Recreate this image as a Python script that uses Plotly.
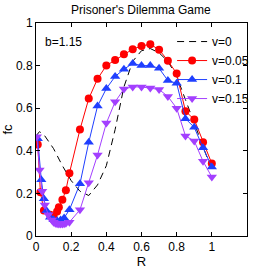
import plotly.graph_objects as go

# v=0 (dashed, no markers)
r0 = [0.0, 0.02, 0.05, 0.1, 0.15, 0.2, 0.25, 0.3, 0.35, 0.4, 0.45, 0.5, 0.55, 0.6, 0.65, 0.7, 0.75, 0.8, 0.85, 0.9, 0.95, 1.0]
f0 = [0.47, 0.49, 0.47, 0.41, 0.33, 0.26, 0.21, 0.19, 0.24, 0.33, 0.50, 0.70, 0.82, 0.87, 0.88, 0.86, 0.82, 0.75, 0.64, 0.53, 0.43, 0.31]

# v=0.05
r1 = [0.01, 0.025, 0.045, 0.08, 0.10, 0.12, 0.13, 0.15, 0.17, 0.19, 0.25, 0.30, 0.35, 0.40, 0.45, 0.50, 0.55, 0.60, 0.65, 0.70, 0.75, 0.80, 0.85, 0.90, 0.95, 1.00]
f1 = [0.43, 0.205, 0.12, 0.10, 0.095, 0.115, 0.135, 0.17, 0.215, 0.295, 0.50, 0.645, 0.738, 0.80, 0.826, 0.853, 0.877, 0.892, 0.90, 0.875, 0.823, 0.763, 0.586, 0.547, 0.44, 0.34]

# v=0.1
r2 = [0.01, 0.03, 0.045, 0.06, 0.08, 0.10, 0.12, 0.14, 0.16, 0.19, 0.25, 0.30, 0.35, 0.40, 0.45, 0.50, 0.55, 0.60, 0.65, 0.70, 0.75, 0.80, 0.85, 0.90, 0.95, 1.00]
f2 = [0.456, 0.264, 0.175, 0.118, 0.088, 0.076, 0.072, 0.075, 0.085, 0.123, 0.245, 0.44, 0.61, 0.692, 0.749, 0.783, 0.81, 0.80, 0.80, 0.787, 0.73, 0.717, 0.551, 0.51, 0.414, 0.324]

# v=0.15
r3 = [0.005, 0.02, 0.035, 0.05, 0.07, 0.09, 0.10, 0.11, 0.12, 0.13, 0.14, 0.15, 0.16, 0.17, 0.19, 0.25, 0.30, 0.35, 0.40, 0.45, 0.50, 0.55, 0.60, 0.65, 0.70, 0.75, 0.80, 0.85, 0.90, 0.95, 1.00]
f3 = [0.466, 0.31, 0.21, 0.146, 0.10, 0.075, 0.065, 0.06, 0.058, 0.056, 0.056, 0.056, 0.058, 0.06, 0.065, 0.123, 0.25, 0.38, 0.53, 0.63, 0.69, 0.70, 0.70, 0.695, 0.688, 0.655, 0.60, 0.47, 0.446, 0.351, 0.277]

tick_vals_x = [0, 0.2, 0.4, 0.6, 0.8, 1]
tick_text_x = ["0", "0.2", "0.4", "0.6", "0.8", "1"]
tick_vals_y = [0, 0.2, 0.4, 0.6, 0.8, 1]
tick_text_y = ["0", "0.2", "0.4", "0.6", "0.8", "1"]

FONT = "Liberation Sans Narrow, Arial Narrow, Liberation Sans, sans-serif"

fig = go.Figure()
fig.add_trace(go.Scatter(x=r0, y=f0, mode="lines", name="v=0",
                         line=dict(color="black", width=1, dash="7px,5px")))
fig.add_trace(go.Scatter(x=r1, y=f1, mode="lines+markers", name="v=0.05",
                         line=dict(color="#ff0000", width=1),
                         marker=dict(symbol="circle", size=8, color="#ff0000")))
fig.add_trace(go.Scatter(x=r2, y=f2, mode="lines+markers", name="v=0.1",
                         line=dict(color="#1f3fff", width=1),
                         marker=dict(symbol="triangle-up", size=9, color="#1f3fff")))
fig.add_trace(go.Scatter(x=r3, y=f3, mode="lines+markers", name="v=0.15",
                         line=dict(color="#a33fff", width=1),
                         marker=dict(symbol="triangle-down", size=9, color="#a33fff")))

fig.add_annotation(x=0.04, y=0.91, xref="x", yref="y", text="b=1.15", showarrow=False,
                   xanchor="left", yanchor="middle", font=dict(size=12, color="black", family=FONT))

axis_common = dict(showgrid=False, zeroline=False, showline=True, linecolor="black", linewidth=1,
                   mirror="ticks", ticks="inside", ticklen=4, tickcolor="black", automargin=False,
                   tickfont=dict(size=12, color="black", family=FONT))

fig.update_layout(
    width=273, height=273,
    margin=dict(l=36, r=26, t=23, b=37, autoexpand=False),
    paper_bgcolor="white", plot_bgcolor="white",
    font=dict(family=FONT, size=12, color="black"),
    hovermode=False,
    title=dict(text="Prisoner's Dilemma Game", x=0.516, xanchor="center", y=0.965, yanchor="middle",
               font=dict(size=12, color="black", family=FONT)),
    xaxis=dict(range=[0, 1.2], tickvals=tick_vals_x, ticktext=tick_text_x,
               title=dict(text="R", standoff=2, font=dict(size=13)), **axis_common),
    yaxis=dict(range=[0, 1], tickvals=tick_vals_y, ticktext=tick_text_y,
               title=dict(text="fc", standoff=6, font=dict(size=13)), **axis_common),
    legend=dict(x=0.645, y=0.981, xanchor="left", yanchor="top", bgcolor="rgba(0,0,0,0)",
                font=dict(size=12, family=FONT), itemwidth=30, tracegroupgap=0),
    showlegend=True,
)

fig.write_html("out.html", config={"displayModeBar": False, "staticPlot": True},
               post_script="document.body.style.margin='0px';")
